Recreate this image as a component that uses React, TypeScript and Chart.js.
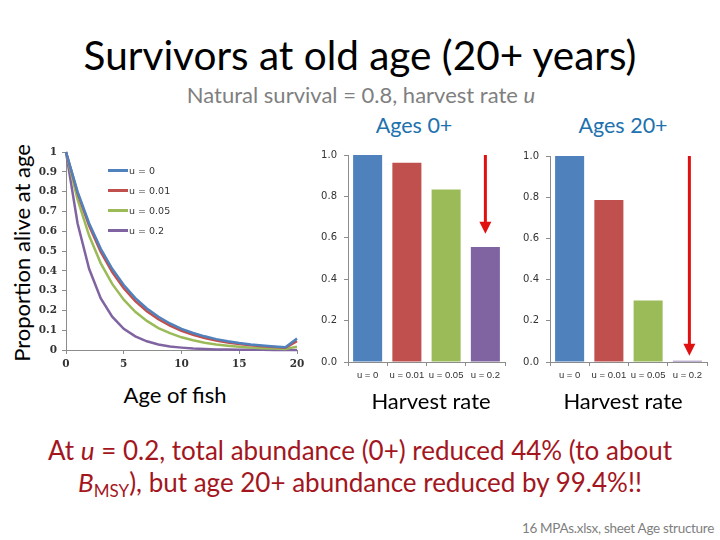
import React, { useEffect, useRef } from "react";
import { Chart, registerables } from "chart.js";

Chart.register(...registerables);

// ---------- data ----------
const ages = [0, 1, 2, 3, 4, 5, 6, 7, 8, 9, 10, 11, 12, 13, 14, 15, 16, 17, 18, 19, 20];
const survU0 = [1, 0.8, 0.64, 0.512, 0.41, 0.328, 0.262, 0.21, 0.168, 0.134, 0.107, 0.086, 0.069, 0.055, 0.044, 0.035, 0.028, 0.023, 0.018, 0.014, 0.058];
const survU001 = [1, 0.792, 0.627, 0.497, 0.394, 0.312, 0.247, 0.196, 0.155, 0.123, 0.097, 0.077, 0.061, 0.048, 0.038, 0.03, 0.024, 0.019, 0.015, 0.012, 0.045];
const survU005 = [1, 0.76, 0.578, 0.439, 0.334, 0.254, 0.193, 0.147, 0.111, 0.085, 0.064, 0.049, 0.037, 0.028, 0.022, 0.016, 0.012, 0.009, 0.007, 0.005, 0.017];
const survU02 = [1, 0.64, 0.41, 0.262, 0.168, 0.107, 0.069, 0.044, 0.028, 0.018, 0.012, 0.007, 0.005, 0.003, 0.002, 0.001, 0.001, 0.001, 0, 0, 0];
const seriesLabels = ["u = 0", "u = 0.01", "u = 0.05", "u = 0.2"];
const seriesColors = ["#4F81BD", "#C0504D", "#9BBB59", "#8064A2"];

const harvestCats = ["u = 0", "u = 0.01", "u = 0.05", "u = 0.2"];
const abundAges0 = [1.0, 0.962, 0.833, 0.556];
const abundAges20 = [1.0, 0.786, 0.299, 0.006];

// arrows: [category index, from value, to value]
const arrowAges0 = [3, 1.0, 0.62];
const arrowAges20 = [3, 1.0, 0.03];

const FONT = "Lato, 'Open Sans', sans-serif";
const TICK_FONT = "'DejaVu Sans', sans-serif";
const CAT_FONT = "'Liberation Sans', Arial, sans-serif";
const SERIF_TICK = "'DejaVu Serif', serif";

const arrowPlugin = {
  id: "arrowMark",
  afterDatasetsDraw(chart: any, _args: any, opts: any) {
    if (!opts || !opts.arrow) return;
    const [idx, from, to] = opts.arrow;
    const xs = chart.scales.x;
    const ys = chart.scales.y;
    const px = xs.getPixelForValue(idx) + (opts.dx || 0);
    const y1 = ys.getPixelForValue(from);
    const y2 = ys.getPixelForValue(to);
    const ctx = chart.ctx;
    const head = 12;
    ctx.save();
    ctx.strokeStyle = "#E01010";
    ctx.fillStyle = "#E01010";
    ctx.lineWidth = 3;
    ctx.beginPath();
    ctx.moveTo(px, y1);
    ctx.lineTo(px, y2 - head + 1);
    ctx.stroke();
    ctx.beginPath();
    ctx.moveTo(px - 6, y2 - head);
    ctx.lineTo(px + 6, y2 - head);
    ctx.lineTo(px, y2);
    ctx.closePath();
    ctx.fill();
    ctx.restore();
  },
};

function useChart(ref: React.RefObject<HTMLCanvasElement>, makeConfig: () => any) {
  useEffect(() => {
    if (!ref.current) return;
    const chart = new Chart(ref.current, makeConfig());
    return () => chart.destroy();
  }, []);
}

const axisGray = "#8C8C8C";

function LineChart() {
  const ref = useRef<HTMLCanvasElement>(null);
  useChart(ref, () => {
    const all = [survU0, survU001, survU005, survU02];
    return {
      type: "line",
      data: {
        datasets: all.map((vals, i) => ({
          label: seriesLabels[i],
          data: ages.map((a, j) => ({ x: a, y: vals[j] })),
          borderColor: seriesColors[i],
          backgroundColor: seriesColors[i],
          borderWidth: 2.5,
          pointRadius: 0,
          tension: 0,
          clip: 4,
        })),
      },
      options: {
        responsive: false,
        animation: false,
        layout: { padding: { top: 12, right: 13, left: 0, bottom: 0 } },
        plugins: { legend: { display: false }, tooltip: { enabled: false } },
        scales: {
          x: {
            type: "linear",
            min: 0,
            max: 20,
            ticks: { stepSize: 5, font: { family: SERIF_TICK, size: 10.5, weight: "bold" }, color: "#333", padding: 4, maxRotation: 0 },
            grid: { drawOnChartArea: false, drawTicks: true, tickLength: 4, color: axisGray },
            border: { display: true, color: axisGray },
            afterFit: (s: any) => { s.height = 30; },
          },
          y: {
            min: 0,
            max: 1,
            ticks: {
              stepSize: 0.1,
              font: { family: SERIF_TICK, size: 10.5, weight: "bold" },
              color: "#333",
              padding: 5,
              callback: (v: number) => String(Math.round(v * 10) / 10),
            },
            grid: { drawOnChartArea: false, drawTicks: true, tickLength: 4, color: axisGray },
            border: { display: true, color: axisGray },
            afterFit: (s: any) => { s.width = 36; },
          },
        },
      },
    };
  });
  return <canvas ref={ref} width={280} height={240} style={{ position: "absolute", left: 30, top: 140 }} />;
}

function BarChart(props: { values: number[]; arrow: number[]; left: number; padTop: number; padRight: number; yWidth: number; dx: number }) {
  const ref = useRef<HTMLCanvasElement>(null);
  useChart(ref, () => ({
    type: "bar",
    data: {
      labels: harvestCats,
      datasets: [
        {
          data: props.values,
          backgroundColor: seriesColors,
          borderWidth: 0,
          barPercentage: 0.74,
          categoryPercentage: 1,
        },
      ],
    },
    options: {
      responsive: false,
      animation: false,
      layout: { padding: { top: props.padTop, right: props.padRight, left: 0, bottom: 0 } },
      plugins: { legend: { display: false }, tooltip: { enabled: false }, arrowMark: { arrow: props.arrow, dx: props.dx } },
      scales: {
        x: {
          ticks: { font: { family: CAT_FONT, size: 9.5 }, color: "#333", padding: 4, maxRotation: 0, autoSkip: false },
          grid: { drawOnChartArea: false, drawTicks: true, tickLength: 4, offset: true, color: axisGray },
          border: { display: true, color: axisGray },
          afterFit: (s: any) => { s.height = 23; },
        },
        y: {
          min: 0,
          max: 1,
          ticks: {
            stepSize: 0.2,
            font: { family: TICK_FONT, size: 10 },
            color: "#333",
            padding: 7,
            callback: (v: number) => v.toFixed(1),
          },
          grid: { drawOnChartArea: false, drawTicks: true, tickLength: 4, color: axisGray },
          border: { display: true, color: axisGray },
          afterFit: (s: any) => { s.width = props.yWidth; },
        },
      },
    },
    plugins: [arrowPlugin],
  }));
  return <canvas ref={ref} width={210} height={245} style={{ position: "absolute", left: props.left, top: 140 }} />;
}

function T(props: { x: number; y: number; size: number; color?: string; children: any; style?: any }) {
  return (
    <div
      style={{
        position: "absolute",
        left: props.x,
        top: props.y,
        transform: "translate(-50%, -50%)",
        fontSize: props.size,
        lineHeight: 1,
        color: props.color || "#000",
        whiteSpace: "nowrap",
        fontFamily: FONT,
        ...(props.style || {}),
      }}
    >
      {props.children}
    </div>
  );
}

export default function App() {
  const red = "#A3161E";
  return (
    <div style={{ position: "absolute", left: 0, top: 0, width: 720, height: 540, background: "#fff", overflow: "hidden", fontFamily: FONT }}>
      <T x={360} y={55} size={40.5}>Survivors at old age (20+ years)</T>
      <T x={361} y={95} size={22} color="#7F7F7F">
        Natural survival = 0.8, harvest rate <i>u</i>
      </T>
      <T x={414} y={126} size={21.5} color="#2071AE">Ages 0+</T>
      <T x={623} y={126} size={21.5} color="#2071AE">Ages 20+</T>
      <T x={22} y={253} size={22} style={{ transform: "translate(-50%, -50%) rotate(-90deg)" }}>Proportion alive at age</T>

      <LineChart />
      {/* legend */}
      {seriesLabels.map((lab, i) => (
        <div key={lab} style={{ position: "absolute", left: 108, top: 170 + i * 20.3 - 7, height: 14, display: "flex", alignItems: "center" }}>
          <div style={{ width: 20, height: 3, background: seriesColors[i] }} />
          <div style={{ fontFamily: TICK_FONT, fontSize: 9.5, color: "#333", marginLeft: 1 }}>{lab}</div>
        </div>
      ))}

      <BarChart values={abundAges0} arrow={arrowAges0} left={305} padTop={15} padRight={10} yWidth={43} dx={0} />
      <BarChart values={abundAges20} arrow={arrowAges20} left={510} padTop={16} padRight={13} yWidth={40} dx={2} />

      <T x={175} y={395} size={22}>Age of fish</T>
      <T x={431} y={401} size={22}>Harvest rate</T>
      <T x={623} y={401} size={22}>Harvest rate</T>

      <T x={360} y={450} size={26} color={red}>
        At <i>u</i> = 0.2, total abundance (0+) reduced 44% (to about
      </T>
      <T x={360} y={484} size={26} color={red}>
        <i>B</i>
        <sub style={{ fontSize: 17, verticalAlign: "-5px" }}>MSY</sub>), but age 20+ abundance reduced by 99.4%!!
      </T>
      <div style={{ position: "absolute", right: 6, top: 520, fontSize: 13.5, color: "#7F7F7F", fontFamily: FONT, whiteSpace: "nowrap", letterSpacing: -0.3 }}>
        16 MPAs.xlsx, sheet Age structure
      </div>
    </div>
  );
}
